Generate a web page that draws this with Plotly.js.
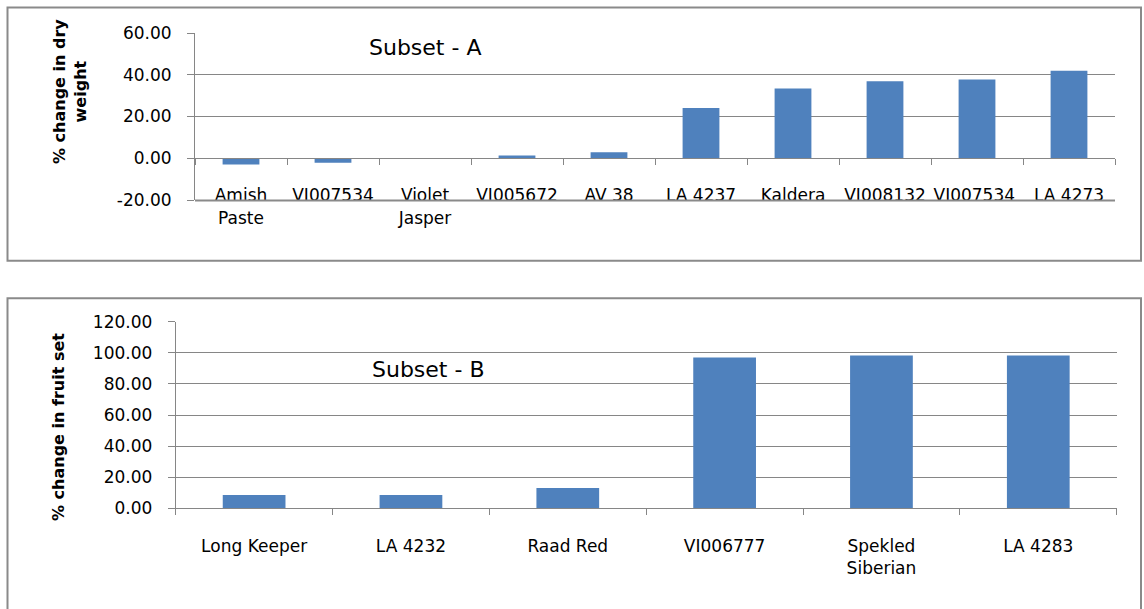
<!DOCTYPE html>
<html>
<head>
<meta charset="utf-8">
<script src="https://cdn.plot.ly/plotly-3.0.1.min.js"></script>
<style>html,body{margin:0;padding:0;background:#fff}#chart{width:1144px;height:609px}</style>
</head>
<body>
<div id="chart"></div>
<script>
// ---- data ----
var catsA = ["Amish<br>Paste", "VI007534", "Violet<br>Jasper", "VI005672", "AV 38", "LA 4237", "Kaldera", "VI008132", "VI007534 ", "LA 4273"];
var valsA = [-3.0, -2.2, -0.3, 1.3, 2.9, 24.1, 33.4, 36.9, 37.7, 41.9];
var tickValsA = [-20, 0, 20, 40, 60];
var tickTextA = ["-20.00", "0.00", "20.00", "40.00", "60.00"];
var catsB = ["Long Keeper", "LA 4232", "Raad Red", "VI006777", "Spekled<br>Siberian", "LA 4283"];
var valsB = [8.6, 8.5, 13.1, 96.9, 98.2, 98.2];
var tickValsB = [0, 20, 40, 60, 80, 100, 120];
var tickTextB = ["0.00", "20.00", "40.00", "60.00", "80.00", "100.00", "120.00"];
var titleA = "Subset - A";
var titleB = "Subset - B";
var yTitleA = "% change in dry<br>weight";
var yTitleB = "% change in fruit set";

// ---- layout helpers (pixel -> paper) ----
var W = 1144, H = 609;
function fx(p){ return p / W; }
function fy(p){ return 1 - p / H; }

var FONT = "DejaVu Sans";
var GRID = "#868686";
var BAR = "#4F81BD";

var domXA = [fx(195), fx(1115)], domYA = [fy(200), fy(33)];
var domXB = [fx(175.7), fx(1116.7)], domYB = [fy(508.3), fy(321.7)];

var traces = [
  {type: "bar", x: catsA, y: valsA, xaxis: "x", yaxis: "y", marker: {color: BAR}, hoverinfo: "none"},
  {type: "bar", x: catsB, y: valsB, xaxis: "x2", yaxis: "y2", marker: {color: BAR}, hoverinfo: "none"}
];

var tf = {family: FONT, size: 17, color: "#000"};

var layout = {
  width: W, height: H,
  margin: {l: 0, r: 0, t: 0, b: 0},
  paper_bgcolor: "#fff", plot_bgcolor: "rgba(0,0,0,0)",
  showlegend: false,
  bargap: 0.6,
  font: tf,
  xaxis: {
    domain: domXA, anchor: "free", position: fy(158),
    type: "category", tickson: "boundaries", ticks: "outside", ticklen: 6, tickcolor: GRID,
    showline: true, linecolor: GRID, linewidth: 1, showgrid: false, tickangle: 0,
    ticklabelstandoff: 22, tickfont: tf
  },
  yaxis: {
    domain: domYA, anchor: "x", range: [-20, 60],
    tickmode: "array", tickvals: tickValsA, ticktext: tickTextA,
    ticks: "outside", ticklen: 7, tickcolor: GRID,
    showline: true, linecolor: GRID, linewidth: 1, showgrid: true, gridcolor: GRID, gridwidth: 1,
    zeroline: false, ticklabelstandoff: 12, tickfont: tf
  },
  xaxis2: {
    domain: domXB, anchor: "y2",
    type: "category", tickson: "boundaries", ticks: "outside", ticklen: 6, tickcolor: GRID,
    showline: true, linecolor: GRID, linewidth: 1, showgrid: false, tickangle: 0,
    ticklabelstandoff: 22, tickfont: tf
  },
  yaxis2: {
    domain: domYB, anchor: "x2", range: [0, 120],
    tickmode: "array", tickvals: tickValsB, ticktext: tickTextB,
    ticks: "outside", ticklen: 7, tickcolor: GRID,
    showline: true, linecolor: GRID, linewidth: 1, showgrid: true, gridcolor: GRID, gridwidth: 1,
    zeroline: false, ticklabelstandoff: 12, tickfont: tf
  },
  shapes: [
    {type: "rect", xref: "paper", yref: "paper", x0: fx(7.5), x1: fx(1141), y0: fy(7.5), y1: fy(260.7),
     line: {color: "#8a8a8a", width: 2}, layer: "below"},
    {type: "rect", xref: "paper", yref: "paper", x0: fx(7.5), x1: fx(1141), y0: fy(298.3), y1: fy(640),
     line: {color: "#8a8a8a", width: 2}, layer: "below"},
    // bottom-edge gridline of the subset A plot area (y = -20)
    {type: "rect", xref: "paper", yref: "paper", x0: domXA[0], x1: domXA[1], y0: fy(201.5), y1: fy(199.5),
     fillcolor: "#8a8a8a", line: {width: 0}, layer: "above"}
  ],
  annotations: [
    {text: titleA, xref: "paper", yref: "paper", x: fx(425), y: fy(47), xanchor: "center", yanchor: "middle",
     showarrow: false, font: {family: FONT, size: 22, color: "#000"}},
    {text: titleB, xref: "paper", yref: "paper", x: fx(428), y: fy(369), xanchor: "center", yanchor: "middle",
     showarrow: false, font: {family: FONT, size: 22, color: "#000"}},
    {text: "<b>" + yTitleA.replace("<br>", "</b><br><b>") + "</b>", xref: "paper", yref: "paper", x: fx(70), y: fy(92),
     xanchor: "center", yanchor: "middle", textangle: -90, showarrow: false,
     font: {family: FONT, size: 16, color: "#000"}},
    {text: "<b>" + yTitleB + "</b>", xref: "paper", yref: "paper", x: fx(58), y: fy(427),
     xanchor: "center", yanchor: "middle", textangle: -90, showarrow: false,
     font: {family: FONT, size: 16, color: "#000"}}
  ]
};

Plotly.newPlot("chart", traces, layout, {staticPlot: true, displayModeBar: false});
</script>
</body>
</html>
